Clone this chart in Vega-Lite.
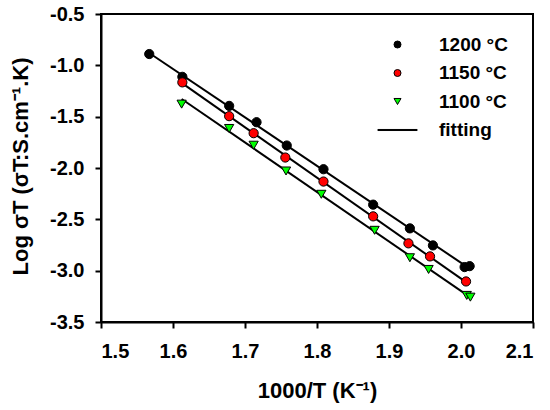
{
  "$schema": "https://vega.github.io/schema/vega-lite/v6.json",
  "width": 432,
  "height": 308,
  "autosize": "none",
  "padding": {"left": 101, "top": 14, "right": 17, "bottom": 88},
  "background": "white",
  "data": {
    "values": [
      {"label": "1200 °C", "x": 1.567, "y": -0.890},
      {"label": "1200 °C", "x": 1.613, "y": -1.112},
      {"label": "1200 °C", "x": 1.678, "y": -1.395},
      {"label": "1200 °C", "x": 1.716, "y": -1.554},
      {"label": "1200 °C", "x": 1.758, "y": -1.781},
      {"label": "1200 °C", "x": 1.809, "y": -2.012},
      {"label": "1200 °C", "x": 1.878, "y": -2.357},
      {"label": "1200 °C", "x": 1.929, "y": -2.588},
      {"label": "1200 °C", "x": 1.961, "y": -2.754},
      {"label": "1200 °C", "x": 2.005, "y": -2.965},
      {"label": "1200 °C", "x": 2.012, "y": -2.956},
      {"label": "1150 °C", "x": 1.613, "y": -1.166},
      {"label": "1150 °C", "x": 1.678, "y": -1.495},
      {"label": "1150 °C", "x": 1.712, "y": -1.661},
      {"label": "1150 °C", "x": 1.756, "y": -1.898},
      {"label": "1150 °C", "x": 1.809, "y": -2.132},
      {"label": "1150 °C", "x": 1.878, "y": -2.471},
      {"label": "1150 °C", "x": 1.927, "y": -2.734},
      {"label": "1150 °C", "x": 1.957, "y": -2.861},
      {"label": "1150 °C", "x": 2.007, "y": -3.105},
      {"label": "1100 °C", "x": 1.612, "y": -1.378},
      {"label": "1100 °C", "x": 1.678, "y": -1.615},
      {"label": "1100 °C", "x": 1.712, "y": -1.778},
      {"label": "1100 °C", "x": 1.757, "y": -2.029},
      {"label": "1100 °C", "x": 1.806, "y": -2.256},
      {"label": "1100 °C", "x": 1.880, "y": -2.607},
      {"label": "1100 °C", "x": 1.929, "y": -2.874},
      {"label": "1100 °C", "x": 1.955, "y": -2.988},
      {"label": "1100 °C", "x": 2.008, "y": -3.241},
      {"label": "1100 °C", "x": 2.013, "y": -3.258}
    ]
  },
  "layer": [
    {
      "transform": [
        {"regression": "y", "on": "x", "groupby": ["label"], "method": "linear"}
      ],
      "mark": {"type": "line", "color": "black", "strokeWidth": 2},
      "encoding": {
        "x": {"field": "x", "type": "quantitative"},
        "y": {"field": "y", "type": "quantitative"},
        "detail": {"field": "label"}
      }
    },
    {
      "mark": {"type": "point", "filled": true, "opacity": 1, "stroke": "black", "strokeWidth": 1, "size": 85},
      "encoding": {
        "x": {"field": "x", "type": "quantitative"},
        "y": {"field": "y", "type": "quantitative"},
        "color": {
          "field": "label",
          "type": "nominal",
          "scale": {
            "domain": ["1200 °C", "1150 °C", "1100 °C", "fitting"],
            "range": ["black", "#ff0000", "#00ff00", "black"]
          },
          "legend": {
            "orient": "none", "legendX": 287, "legendY": 21, "title": null,
            "symbolSize": 49, "symbolStrokeColor": "black", "symbolStrokeWidth": 1,
            "labelOffset": 32, "rowPadding": 8.5, "padding": 0
          }
        },
        "shape": {
          "field": "label",
          "type": "nominal",
          "scale": {
            "domain": ["1200 °C", "1150 °C", "1100 °C", "fitting"],
            "range": ["circle", "circle", "triangle-down", "M-5.6,-0.15H5.6V0.15H-5.6Z"]
          },
          "legend": {
            "orient": "none", "legendX": 287, "legendY": 21, "title": null,
            "symbolSize": 49, "symbolStrokeColor": "black", "symbolStrokeWidth": 1,
            "labelOffset": 32, "rowPadding": 8.5, "padding": 0
          }
        }
      }
    }
  ],
  "encoding": {
    "x": {
      "field": "x",
      "type": "quantitative",
      "scale": {"domain": [1.5, 2.1], "nice": false, "zero": false},
      "axis": {
        "title": "1000/T (K⁻¹)",
        "values": [1.5, 1.6, 1.7, 1.8, 1.9, 2.0, 2.1],
        "format": ".1f",
        "labelPadding": 13,
        "titlePadding": 19
      }
    },
    "y": {
      "field": "y",
      "type": "quantitative",
      "scale": {"domain": [-3.5, -0.5], "nice": false, "zero": false},
      "axis": {
        "title": "Log σT (σT:S.cm⁻¹.K)",
        "values": [-3.5, -3.0, -2.5, -2.0, -1.5, -1.0, -0.5],
        "format": ".1f",
        "labelExpr": "replace(datum.label, '−', '-')",
        "labelPadding": 11,
        "titleY": 152,
        "titleX": -69
      }
    }
  },
  "config": {
    "font": "Liberation Sans",
    "view": {"stroke": "black", "strokeWidth": 2},
    "axis": {
      "grid": false,
      "domainColor": "black",
      "domainWidth": 2,
      "tickColor": "black",
      "tickWidth": 2,
      "tickSize": 6,
      "labelFont": "Liberation Sans",
      "labelFontSize": 20,
      "labelFontWeight": "bold",
      "labelColor": "black",
      "titleFont": "Liberation Sans",
      "titleFontSize": 22,
      "titleFontWeight": "bold",
      "titleColor": "black"
    },
    "legend": {
      "labelFont": "Liberation Sans",
      "labelFontSize": 19,
      "labelFontWeight": "bold",
      "labelColor": "black"
    }
  }
}
